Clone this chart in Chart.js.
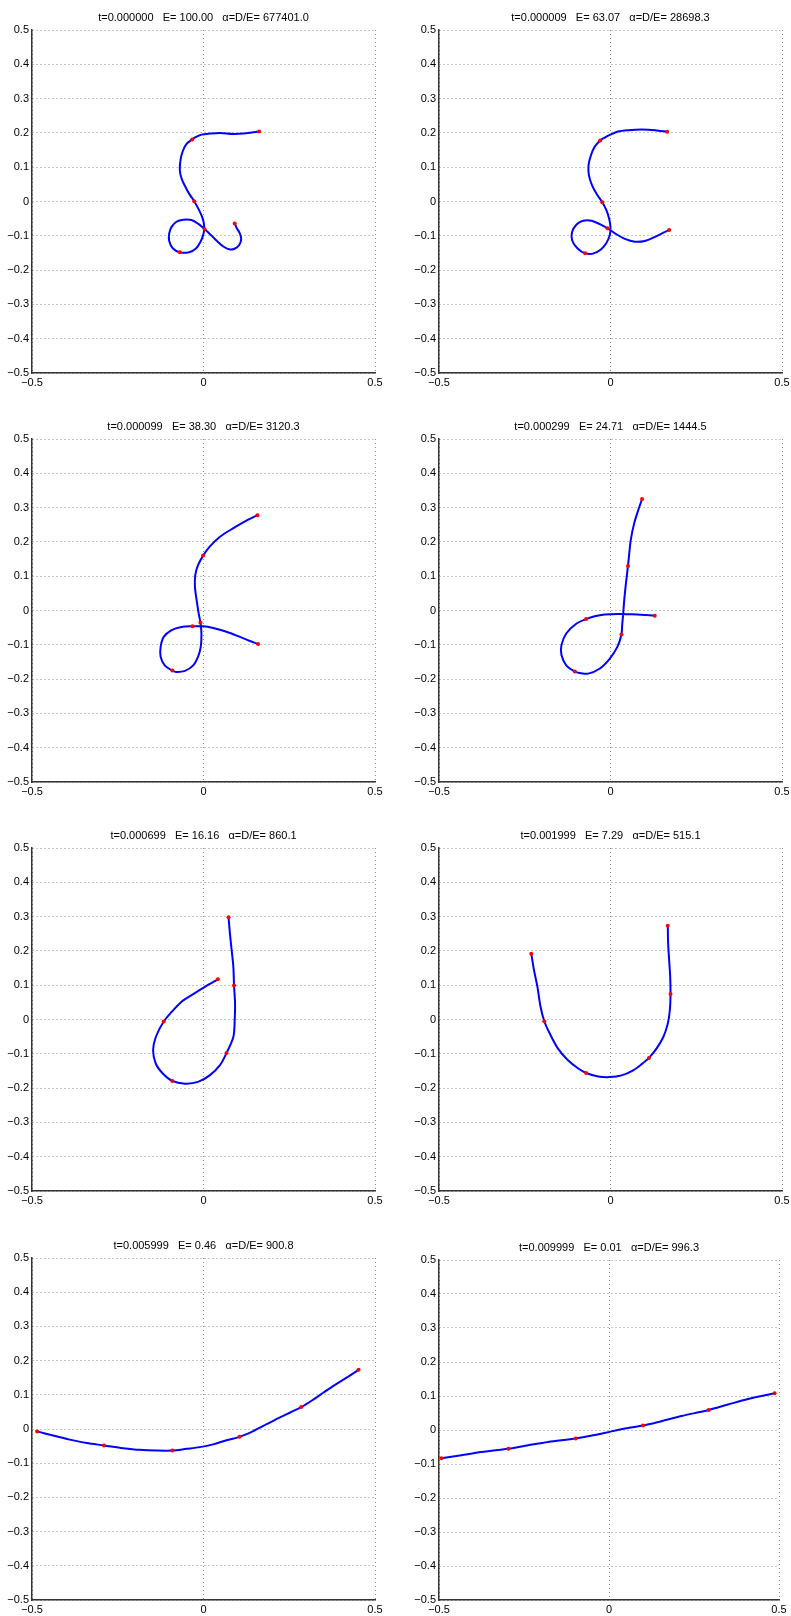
<!DOCTYPE html>
<html>
<head>
<meta charset="utf-8">
<script src="https://cdn.jsdelivr.net/npm/chart.js@4.4.1/dist/chart.umd.min.js"></script>
<style>
  html, body { margin: 0; padding: 0; background: #fff; }
  #page { position: relative; width: 791px; height: 1616px; overflow: hidden; background: #fff; }
  .cell { position: absolute; }
</style>
</head>
<body>
<div id="page"></div>
<script>
// tick positions shared by every panel
const xTicks = [-0.5, 0, 0.5];
const yTicks = [-0.5, -0.4, -0.3, -0.2, -0.1, 0, 0.1, 0.2, 0.3, 0.4, 0.5];

const titles = [
  't=0.000000   E= 100.00   \u03b1=D/E= 677401.0',
  't=0.000009   E= 63.07   \u03b1=D/E= 28698.3',
  't=0.000099   E= 38.30   \u03b1=D/E= 3120.3',
  't=0.000299   E= 24.71   \u03b1=D/E= 1444.5',
  't=0.000699   E= 16.16   \u03b1=D/E= 860.1',
  't=0.001999   E= 7.29   \u03b1=D/E= 515.1',
  't=0.005999   E= 0.46   \u03b1=D/E= 900.8',
  't=0.009999   E= 0.01   \u03b1=D/E= 996.3'
];

// curve samples, [x, y]
const curve1 = [
  [0.162, 0.204], [0.125, 0.199], [0.087, 0.197], [0.048, 0.200], [0.018, 0.198],
  [-0.006, 0.195], [-0.020, 0.189], [-0.033, 0.181], [-0.050, 0.167], [-0.061, 0.145],
  [-0.067, 0.121], [-0.069, 0.091], [-0.064, 0.067], [-0.054, 0.045], [-0.042, 0.023],
  [-0.027, 0.001], [-0.014, -0.023], [-0.004, -0.045], [0.001, -0.064], [0.002, -0.080],
  [-0.001, -0.098], [-0.009, -0.118], [-0.022, -0.137], [-0.042, -0.148], [-0.069, -0.148],
  [-0.089, -0.137], [-0.100, -0.115], [-0.100, -0.093], [-0.093, -0.074], [-0.079, -0.059],
  [-0.059, -0.053], [-0.035, -0.054], [-0.014, -0.066], [0.003, -0.080], [0.020, -0.096],
  [0.040, -0.116], [0.059, -0.132], [0.077, -0.140], [0.092, -0.137], [0.104, -0.127],
  [0.110, -0.109], [0.105, -0.091], [0.097, -0.078], [0.091, -0.064]
];
const dots1 = [[0.162, 0.204], [-0.033, 0.181], [-0.027, 0.001], [-0.069, -0.148], [0.003, -0.080], [0.091, -0.064]];

const curve2 = [
  [0.165, 0.203], [0.130, 0.208], [0.091, 0.210], [0.052, 0.208], [0.022, 0.204],
  [-0.002, 0.194], [-0.021, 0.184], [-0.030, 0.178], [-0.046, 0.160], [-0.057, 0.135],
  [-0.064, 0.106], [-0.063, 0.077], [-0.054, 0.048], [-0.039, 0.020], [-0.024, -0.002],
  [-0.012, -0.025], [-0.004, -0.050], [0.000, -0.074], [-0.002, -0.098], [-0.012, -0.121],
  [-0.028, -0.140], [-0.051, -0.152], [-0.074, -0.151], [-0.096, -0.137], [-0.112, -0.113],
  [-0.112, -0.089], [-0.099, -0.067], [-0.080, -0.056], [-0.055, -0.056], [-0.031, -0.066],
  [-0.009, -0.078], [0.013, -0.093], [0.042, -0.109], [0.071, -0.117], [0.100, -0.115],
  [0.130, -0.103], [0.154, -0.091], [0.171, -0.083]
];
const dots2 = [[0.165, 0.203], [-0.030, 0.178], [-0.024, -0.002], [-0.074, -0.151], [-0.009, -0.078], [0.171, -0.083]];

const curve3 = [
  [0.157, 0.278], [0.125, 0.262], [0.087, 0.240], [0.048, 0.215], [0.018, 0.186],
  [-0.001, 0.160], [-0.016, 0.132], [-0.024, 0.103], [-0.025, 0.069], [-0.020, 0.030],
  [-0.014, -0.009], [-0.009, -0.035], [-0.006, -0.067], [-0.008, -0.106], [-0.016, -0.135],
  [-0.030, -0.160], [-0.054, -0.176], [-0.079, -0.179], [-0.091, -0.175], [-0.113, -0.160],
  [-0.125, -0.135], [-0.125, -0.106], [-0.116, -0.077], [-0.093, -0.057], [-0.064, -0.048],
  [-0.032, -0.046], [-0.001, -0.046], [0.028, -0.051], [0.067, -0.062], [0.106, -0.077],
  [0.135, -0.089], [0.159, -0.098]
];
const dots3 = [[0.157, 0.278], [-0.001, 0.160], [-0.009, -0.035], [-0.091, -0.175], [-0.032, -0.046], [0.159, -0.098]];

const curve4 = [
  [0.092, 0.325], [0.081, 0.293], [0.069, 0.254], [0.059, 0.205], [0.051, 0.130],
  [0.045, 0.079], [0.040, 0.030], [0.037, -0.009], [0.034, -0.043], [0.032, -0.070],
  [0.020, -0.106], [-0.002, -0.140], [-0.031, -0.169], [-0.065, -0.184], [-0.090, -0.182],
  [-0.104, -0.178], [-0.129, -0.160], [-0.143, -0.130], [-0.143, -0.101], [-0.129, -0.067],
  [-0.099, -0.038], [-0.071, -0.025], [-0.046, -0.017], [-0.017, -0.012], [0.022, -0.010],
  [0.061, -0.011], [0.100, -0.013], [0.129, -0.015]
];
const dots4 = [[0.092, 0.325], [0.051, 0.130], [0.032, -0.070], [-0.104, -0.178], [-0.071, -0.025], [0.129, -0.015]];

const curve5 = [
  [0.073, 0.298], [0.077, 0.251], [0.082, 0.203], [0.087, 0.154], [0.089, 0.099],
  [0.092, 0.047], [0.091, -0.002], [0.087, -0.051], [0.067, -0.098], [0.048, -0.133],
  [0.018, -0.163], [-0.016, -0.182], [-0.054, -0.187], [-0.091, -0.179], [-0.118, -0.158],
  [-0.139, -0.129], [-0.147, -0.090], [-0.139, -0.051], [-0.116, -0.006], [-0.093, 0.022],
  [-0.064, 0.052], [-0.030, 0.074], [0.004, 0.095], [0.042, 0.117]
];
const dots5 = [[0.073, 0.298], [0.089, 0.099], [0.067, -0.098], [-0.091, -0.179], [-0.116, -0.006], [0.042, 0.117]];

const curve6 = [
  [-0.231, 0.192], [-0.223, 0.144], [-0.213, 0.095], [-0.204, 0.037], [-0.193, -0.005],
  [-0.177, -0.041], [-0.153, -0.085], [-0.124, -0.119], [-0.094, -0.143], [-0.071, -0.156],
  [-0.036, -0.166], [-0.002, -0.168], [0.032, -0.163], [0.066, -0.148], [0.091, -0.130],
  [0.112, -0.112], [0.134, -0.085], [0.154, -0.051], [0.167, -0.012], [0.173, 0.027],
  [0.175, 0.074], [0.174, 0.125], [0.171, 0.173], [0.168, 0.222], [0.167, 0.273]
];
const dots6 = [[-0.231, 0.192], [-0.193, -0.005], [-0.071, -0.156], [0.112, -0.112], [0.175, 0.074], [0.167, 0.273]];

const curve7 = [
  [-0.485, -0.007], [-0.439, -0.019], [-0.390, -0.031], [-0.341, -0.041], [-0.290, -0.048],
  [-0.234, -0.056], [-0.186, -0.061], [-0.137, -0.063], [-0.091, -0.063], [-0.050, -0.058],
  [-0.011, -0.053], [0.028, -0.045], [0.067, -0.033], [0.105, -0.023], [0.145, -0.006],
  [0.184, 0.014], [0.223, 0.034], [0.254, 0.049], [0.285, 0.064], [0.320, 0.086],
  [0.349, 0.106], [0.380, 0.127], [0.417, 0.150], [0.452, 0.173]
];
const dots7 = [[-0.485, -0.007], [-0.290, -0.048], [-0.091, -0.063], [0.105, -0.023], [0.285, 0.064], [0.452, 0.173]];

const curve8 = [
  [-0.493, -0.083], [-0.434, -0.074], [-0.375, -0.065], [-0.296, -0.055], [-0.238, -0.045],
  [-0.179, -0.035], [-0.098, -0.025], [-0.042, -0.015], [0.007, -0.004], [0.056, 0.006],
  [0.100, 0.013], [0.154, 0.026], [0.213, 0.041], [0.293, 0.059], [0.350, 0.075],
  [0.409, 0.091], [0.487, 0.108]
];
const dots8 = [[-0.493, -0.083], [-0.296, -0.055], [-0.098, -0.025], [0.100, 0.013], [0.293, 0.059], [0.487, 0.108]];

const curves = [curve1, curve2, curve3, curve4, curve5, curve6, curve7, curve8];
const dots = [dots1, dots2, dots3, dots4, dots5, dots6, dots7, dots8];

// plot area of each panel on the page: left, top, width, height
const frames = [
  [32, 30, 343, 343], [439, 30, 343, 343],
  [32, 439, 343, 343], [439, 439, 343, 343],
  [32, 848, 343, 343], [439, 848, 343, 343],
  [32, 1258, 343, 342], [439, 1260, 340, 340]
];

const AXIS_W = 40, AXIS_H = 16, TITLE_H = 30, PAD_R = 12;
const FONT = { family: '"Liberation Sans", Arial, Helvetica, sans-serif', size: 11 };

function fmt(v) {
  if (Math.abs(v) < 1e-9) return '0';
  return (v < 0 ? '\u2212' : '') + Math.abs(v).toFixed(1);
}

function gridAxis(ticks, fit) {
  return {
    type: 'linear',
    min: -0.5,
    max: 0.5,
    afterBuildTicks: axis => { axis.ticks = ticks.map(v => ({ value: v })); },
    afterFit: fit,
    ticks: { color: '#000', font: FONT, padding: 3, callback: v => fmt(v), autoSkip: false, maxRotation: 0 },
    grid: { color: '#8a8a8a', lineWidth: 1, drawTicks: false },
    border: { display: true, color: '#333', width: 1.5, dash: [1, 3] }
  };
}

const page = document.getElementById('page');

frames.forEach((f, i) => {
  const [left, top, w, h] = f;
  const cell = document.createElement('div');
  cell.className = 'cell';
  cell.style.left = (left - AXIS_W) + 'px';
  cell.style.top = (top - TITLE_H) + 'px';
  cell.style.width = (w + AXIS_W + PAD_R) + 'px';
  cell.style.height = (h + TITLE_H + AXIS_H) + 'px';
  const canvas = document.createElement('canvas');
  cell.appendChild(canvas);
  page.appendChild(cell);

  new Chart(canvas, {
    type: 'scatter',
    data: {
      datasets: [
        {
          data: dots[i].map(([x, y]) => ({ x, y })),
          pointRadius: 2,
          pointBackgroundColor: '#ff0000',
          pointBorderColor: '#ff0000',
          pointBorderWidth: 0,
          showLine: false
        },
        {
          data: curves[i].map(([x, y]) => ({ x, y })),
          showLine: true,
          borderColor: '#0000ff',
          borderWidth: 2,
          pointRadius: 0,
          tension: 0.3
        }
      ]
    },
    options: {
      responsive: true,
      maintainAspectRatio: false,
      animation: false,
      layout: { padding: { left: 0, right: PAD_R, top: 0, bottom: 0 } },
      plugins: {
        legend: { display: false },
        tooltip: { enabled: false },
        title: {
          display: true,
          text: titles[i],
          color: '#000',
          fullSize: false,
          font: { family: FONT.family, size: 11, weight: 'normal', lineHeight: 1.2 },
          padding: { top: 11.4, bottom: 5.4 }
        }
      },
      scales: {
        x: gridAxis(xTicks, s => { s.height = AXIS_H; }),
        y: gridAxis(yTicks, s => { s.width = AXIS_W; })
      }
    }
  });
});
</script>
</body>
</html>
